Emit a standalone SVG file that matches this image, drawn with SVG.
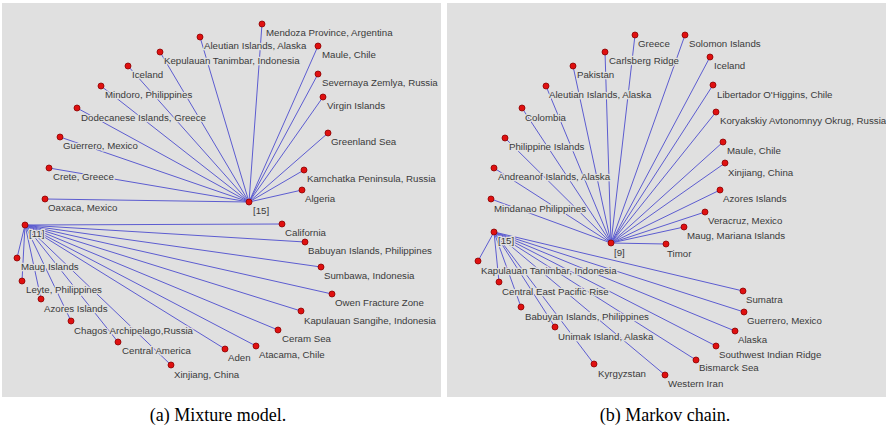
<svg xmlns="http://www.w3.org/2000/svg" width="886" height="432" viewBox="0 0 886 432">
<style>
.bg{fill:#e0e0e0}
.e{stroke:#5c5cd0;stroke-width:1;fill:none}
.d{fill:#e01010;stroke:#8a0000;stroke-width:0.8}
.t{font-family:"Liberation Sans",Arial,sans-serif;font-size:9.7px;fill:#3a3a3a;stroke:#e0e0e0;stroke-width:2.6px;paint-order:stroke;stroke-linejoin:round}
.cap{font-family:"Liberation Serif","Times New Roman",serif;font-size:18px;fill:#000;text-anchor:middle}
</style>
<rect width="886" height="432" fill="#ffffff"/>
<rect class="bg" x="2" y="3" width="439" height="394"/>
<rect class="bg" x="447" y="3" width="439" height="394"/>
<g id="connectors">
<path class="e" d="M249,202L262,24M249,202L200,37M249,202L160,52M249,202L128,66M249,202L101,86M249,202L77,108M249,202L60,137M249,202L49,168M249,202L45,199M249,202L318,46M249,202L318,74M249,202L323,97M249,202L328,133M249,202L304,170M249,202L302,190"/>
<path class="e" d="M25,225L17,258M25,225L22,281M25,225L41,299M25,225L71,321M25,225L118,342M25,225L171,365M25,225L225,349M25,225L256,346M25,225L278,330M25,225L301,311M25,225L332,294M25,225L321,267M25,225L305,242M25,225L282,224"/>
<path class="e" d="M611,243L635,35M611,243L685,35M611,243L605,52M611,243L710,57M611,243L573,66M611,243L713,85M611,243L546,86M611,243L716,112M611,243L522,108M611,243L723,142M611,243L505,138M611,243L725,163M611,243L494,168M611,243L720,190M611,243L491,199M611,243L705,212M611,243L684,227M611,243L666,244"/>
<path class="e" d="M494,232L478,261M494,232L499,282M494,232L521,307M494,232L555,327M494,232L594,364M494,232L665,375M494,232L696,360M494,232L716,346M494,232L735,331M494,232L744,312M494,232L743,291"/>
</g>
<g id="a-hub15"><circle class="d" cx="249" cy="202" r="3"/><text class="t" x="253" y="214">[15]</text></g>
<g id="a-hub11"><circle class="d" cx="25" cy="225" r="3"/><text class="t" x="29" y="237">[11]</text></g>
<g id="a-mendoza"><circle class="d" cx="262" cy="24" r="3"/><text class="t" x="266" y="36">Mendoza Province, Argentina</text></g>
<g id="a-aleutian"><circle class="d" cx="200" cy="37" r="3"/><text class="t" x="204" y="49">Aleutian Islands, Alaska</text></g>
<g id="a-kepulauan"><circle class="d" cx="160" cy="52" r="3"/><text class="t" x="164" y="64">Kepulauan Tanimbar, Indonesia</text></g>
<g id="a-iceland"><circle class="d" cx="128" cy="66" r="3"/><text class="t" x="132" y="78">Iceland</text></g>
<g id="a-mindoro"><circle class="d" cx="101" cy="86" r="3"/><text class="t" x="105" y="98">Mindoro, Philippines</text></g>
<g id="a-dodecanese"><circle class="d" cx="77" cy="108" r="3"/><text class="t" x="81" y="121">Dodecanese Islands, Greece</text></g>
<g id="a-guerrero"><circle class="d" cx="60" cy="137" r="3"/><text class="t" x="63" y="149">Guerrero, Mexico</text></g>
<g id="a-crete"><circle class="d" cx="49" cy="168" r="3"/><text class="t" x="53" y="180">Crete, Greece</text></g>
<g id="a-oaxaca"><circle class="d" cx="45" cy="199" r="3"/><text class="t" x="48" y="211">Oaxaca, Mexico</text></g>
<g id="a-maule"><circle class="d" cx="318" cy="46" r="3"/><text class="t" x="322" y="58">Maule, Chile</text></g>
<g id="a-severnaya"><circle class="d" cx="318" cy="74" r="3"/><text class="t" x="322" y="86">Severnaya Zemlya, Russia</text></g>
<g id="a-virgin"><circle class="d" cx="323" cy="97" r="3"/><text class="t" x="327" y="109">Virgin Islands</text></g>
<g id="a-greenland"><circle class="d" cx="328" cy="133" r="3"/><text class="t" x="331" y="145">Greenland Sea</text></g>
<g id="a-kamchatka"><circle class="d" cx="304" cy="170" r="3"/><text class="t" x="307" y="182">Kamchatka Peninsula, Russia</text></g>
<g id="a-algeria"><circle class="d" cx="302" cy="190" r="3"/><text class="t" x="305" y="202">Algeria</text></g>
<g id="a-maug"><circle class="d" cx="17" cy="258" r="3"/><text class="t" x="21" y="270">Maug Islands</text></g>
<g id="a-leyte"><circle class="d" cx="22" cy="281" r="3"/><text class="t" x="26" y="293">Leyte, Philippines</text></g>
<g id="a-azores"><circle class="d" cx="41" cy="299" r="3"/><text class="t" x="44" y="312">Azores Islands</text></g>
<g id="a-chagos"><circle class="d" cx="71" cy="321" r="3"/><text class="t" x="74" y="334">Chagos Archipelago,Russia</text></g>
<g id="a-centralamerica"><circle class="d" cx="118" cy="342" r="3"/><text class="t" x="122" y="354">Central America</text></g>
<g id="a-xinjiang"><circle class="d" cx="171" cy="365" r="3"/><text class="t" x="174" y="378">Xinjiang, China</text></g>
<g id="a-aden"><circle class="d" cx="225" cy="349" r="3"/><text class="t" x="228" y="361">Aden</text></g>
<g id="a-atacama"><circle class="d" cx="256" cy="346" r="3"/><text class="t" x="259" y="358">Atacama, Chile</text></g>
<g id="a-ceram"><circle class="d" cx="278" cy="330" r="3"/><text class="t" x="282" y="342">Ceram Sea</text></g>
<g id="a-sangihe"><circle class="d" cx="301" cy="311" r="3"/><text class="t" x="304" y="324">Kapulauan Sangihe, Indonesia</text></g>
<g id="a-owen"><circle class="d" cx="332" cy="294" r="3"/><text class="t" x="335" y="306">Owen Fracture Zone</text></g>
<g id="a-sumbawa"><circle class="d" cx="321" cy="267" r="3"/><text class="t" x="324" y="279">Sumbawa, Indonesia</text></g>
<g id="a-babuyan"><circle class="d" cx="305" cy="242" r="3"/><text class="t" x="308" y="254">Babuyan Islands, Philippines</text></g>
<g id="a-california"><circle class="d" cx="282" cy="224" r="3"/><text class="t" x="285" y="236">California</text></g>
<g id="b-hub9"><circle class="d" cx="611" cy="243" r="3"/><text class="t" x="614" y="256">[9]</text></g>
<g id="b-hub15"><circle class="d" cx="494" cy="232" r="3"/><text class="t" x="498" y="244">[15]</text></g>
<g id="b-greece"><circle class="d" cx="635" cy="35" r="3"/><text class="t" x="638" y="47">Greece</text></g>
<g id="b-solomon"><circle class="d" cx="685" cy="35" r="3"/><text class="t" x="689" y="47">Solomon Islands</text></g>
<g id="b-carlsberg"><circle class="d" cx="605" cy="52" r="3"/><text class="t" x="609" y="64">Carlsberg Ridge</text></g>
<g id="b-iceland"><circle class="d" cx="710" cy="57" r="3"/><text class="t" x="714" y="69">Iceland</text></g>
<g id="b-pakistan"><circle class="d" cx="573" cy="66" r="3"/><text class="t" x="577" y="78">Pakistan</text></g>
<g id="b-libertador"><circle class="d" cx="713" cy="85" r="3"/><text class="t" x="717" y="98">Libertador O'Higgins, Chile</text></g>
<g id="b-aleutian"><circle class="d" cx="546" cy="86" r="3"/><text class="t" x="549" y="98">Aleutian Islands, Alaska</text></g>
<g id="b-koryakskiy"><circle class="d" cx="716" cy="112" r="3"/><text class="t" x="720" y="124">Koryakskiy Avtonomnyy Okrug, Russia</text></g>
<g id="b-colombia"><circle class="d" cx="522" cy="108" r="3"/><text class="t" x="525" y="121">Colombia</text></g>
<g id="b-maule"><circle class="d" cx="723" cy="142" r="3"/><text class="t" x="727" y="154">Maule, Chile</text></g>
<g id="b-philippine"><circle class="d" cx="505" cy="138" r="3"/><text class="t" x="509" y="150">Philippine Islands</text></g>
<g id="b-xinjiang"><circle class="d" cx="725" cy="163" r="3"/><text class="t" x="728" y="176">Xinjiang, China</text></g>
<g id="b-andreanof"><circle class="d" cx="494" cy="168" r="3"/><text class="t" x="498" y="180">Andreanof Islands, Alaska</text></g>
<g id="b-azores"><circle class="d" cx="720" cy="190" r="3"/><text class="t" x="723" y="202">Azores Islands</text></g>
<g id="b-mindanao"><circle class="d" cx="491" cy="199" r="3"/><text class="t" x="494" y="212">Mindanao Philippines</text></g>
<g id="b-veracruz"><circle class="d" cx="705" cy="212" r="3"/><text class="t" x="708" y="224">Veracruz, Mexico</text></g>
<g id="b-maug"><circle class="d" cx="684" cy="227" r="3"/><text class="t" x="687" y="239">Maug, Mariana Islands</text></g>
<g id="b-timor"><circle class="d" cx="666" cy="244" r="3"/><text class="t" x="667" y="257">Timor</text></g>
<g id="b-kapulauan"><circle class="d" cx="478" cy="261" r="3"/><text class="t" x="481" y="274">Kapulauan Tanimbar, Indonesia</text></g>
<g id="b-ceps"><circle class="d" cx="499" cy="282" r="3"/><text class="t" x="502" y="295">Central East Pacific Rise</text></g>
<g id="b-babuyan"><circle class="d" cx="521" cy="307" r="3"/><text class="t" x="525" y="320">Babuyan Islands, Philippines</text></g>
<g id="b-unimak"><circle class="d" cx="555" cy="327" r="3"/><text class="t" x="558" y="340">Unimak Island, Alaska</text></g>
<g id="b-kyrgyzstan"><circle class="d" cx="594" cy="364" r="3"/><text class="t" x="598" y="377">Kyrgyzstan</text></g>
<g id="b-westerniran"><circle class="d" cx="665" cy="375" r="3"/><text class="t" x="668" y="387">Western Iran</text></g>
<g id="b-bismarck"><circle class="d" cx="696" cy="360" r="3"/><text class="t" x="699" y="371">Bismarck Sea</text></g>
<g id="b-swir"><circle class="d" cx="716" cy="346" r="3"/><text class="t" x="719" y="358">Southwest Indian Ridge</text></g>
<g id="b-alaska"><circle class="d" cx="735" cy="331" r="3"/><text class="t" x="738" y="343">Alaska</text></g>
<g id="b-guerrero"><circle class="d" cx="744" cy="312" r="3"/><text class="t" x="747" y="324">Guerrero, Mexico</text></g>
<g id="b-sumatra"><circle class="d" cx="743" cy="291" r="3"/><text class="t" x="746" y="303">Sumatra</text></g>
<text class="cap" x="218" y="421">(a) Mixture model.</text>
<text class="cap" x="665" y="421">(b) Markov chain.</text>
</svg>
